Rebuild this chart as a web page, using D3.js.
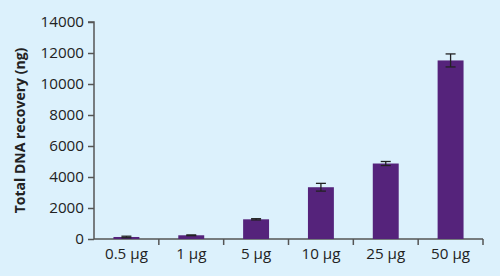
<!DOCTYPE html>
<html>
<head>
<meta charset="utf-8">
<script src="https://cdn.jsdelivr.net/npm/d3@7"></script>
<style>
	html, body { margin: 0; padding: 0; background: #dcf1fc; }
	svg { display: block; }
	.tick text { fill: #222; }
</style>
</head>
<body>
<svg id="chart" width="500" height="276"></svg>
<script>
const categories = ['0.5 µg', '1 µg', '5 µg', '10 µg', '25 µg', '50 µg'];
const values = [130, 240, 1270, 3340, 4870, 11520];
const errors = [50, 25, 40, 250, 130, 420];
const yTicks = [0, 2000, 4000, 6000, 8000, 10000, 12000, 14000];

const font = '"Open Sans", sans-serif';
const margin = {top: 22, right: 17, bottom: 37, left: 94};
const W = 500, H = 276;
const w = W - margin.left - margin.right,
			h = H - margin.top - margin.bottom;

const svg = d3.select('#chart');
const g = svg.append('g')
	.attr('transform', 'translate(' + margin.left + ',' + margin.top + ')');

const x = d3.scaleBand()
	.domain(categories)
	.range([0, w])
	.paddingInner(0.6)
	.paddingOuter(0.3);

const y = d3.scaleLinear()
	.domain([0, 14000])
	.range([h, 0]);

const axisColor = '#555';

// y axis
const yAx = g.append('g')
	.call(d3.axisLeft(y).tickValues(yTicks).tickSize(6).tickPadding(4).tickFormat(d3.format('d')))
	.attr('font-family', font)
	.attr('font-size', 15.2);
yAx.select('.domain').attr('stroke', axisColor).attr('stroke-width', 1.5).attr('d', 'M0,' + h + 'V0H-6');
yAx.selectAll('.tick line').attr('stroke', axisColor).attr('stroke-width', 1.5);

// x axis: labels at band centres, ticks at band edges
const xAx = g.append('g')
	.attr('transform', 'translate(0,' + h + ')')
	.call(d3.axisBottom(x).tickSize(0).tickPadding(9))
	.attr('font-family', font)
	.attr('font-size', 15.2);
xAx.select('.domain').attr('stroke', axisColor).attr('stroke-width', 1.5).attr('d', 'M0,0H' + w);

const step = x.step();
xAx.selectAll('.edge')
	.data(categories)
	.enter()
	.append('line')
	.attr('class', 'edge')
	.attr('x1', d => x(d) + x.bandwidth() / 2 + step / 2)
	.attr('x2', d => x(d) + x.bandwidth() / 2 + step / 2)
	.attr('y1', 0)
	.attr('y2', 6)
	.attr('stroke', axisColor)
	.attr('stroke-width', 1.5);

// bars
g.selectAll('.bar')
	.data(categories)
	.enter()
	.append('rect')
	.attr('class', 'bar')
	.attr('x', d => x(d))
	.attr('width', x.bandwidth())
	.attr('y', (d, i) => y(values[i]))
	.attr('height', (d, i) => h - y(values[i]))
	.attr('fill', '#55237b');

// error bars
const eb = g.selectAll('.err')
	.data(categories)
	.enter()
	.append('g')
	.attr('class', 'err')
	.attr('transform', d => 'translate(' + (x(d) + x.bandwidth() / 2) + ',0)');

eb.append('line')
	.attr('y1', (d, i) => y(values[i] + errors[i]))
	.attr('y2', (d, i) => y(values[i] - errors[i]))
	.attr('stroke', '#222')
	.attr('stroke-width', 1.3);

[1, -1].forEach(s => {
	eb.append('line')
		.attr('x1', -5)
		.attr('x2', 5)
		.attr('y1', (d, i) => y(values[i] + s * errors[i]))
		.attr('y2', (d, i) => y(values[i] + s * errors[i]))
		.attr('stroke', '#222')
		.attr('stroke-width', 1.3);
});

// y label
svg.append('text')
	.attr('transform', 'translate(25,' + (margin.top + h / 2) + ') rotate(-90)')
	.attr('text-anchor', 'middle')
	.attr('font-family', font)
	.attr('font-size', 14)
	.attr('font-weight', 'bold')
	.attr('fill', '#222')
	.text('Total DNA recovery (ng)');
</script>
</body>
</html>
